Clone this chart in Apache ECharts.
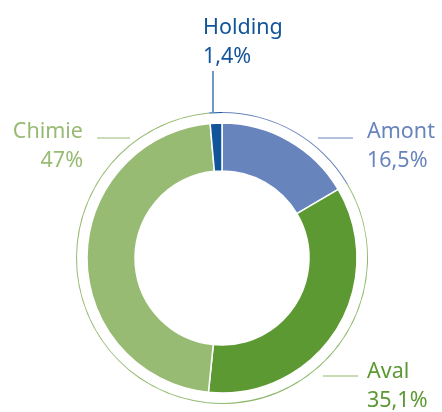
<!DOCTYPE html>
<html><head><meta charset="utf-8">
<script src="https://cdn.jsdelivr.net/npm/echarts@6/dist/echarts.min.js"></script>
<style>html,body{margin:0;padding:0;background:#fff}#c{width:442px;height:412px}</style>
</head><body><div id="c"></div>
<script>
const categories = ['Amont', 'Aval', 'Chimie', 'Holding'];
const values = [16.5, 35.1, 47, 1.4];
const valueLabels = ['16,5%', '35,1%', '47%', '1,4%'];
const colors = ['#6884bd', '#5c9933', '#98bb73', '#12549a'];
const lineColors = ['#6884bd', '#8fb96c', '#98bb73', '#12549a'];

// label anchor placement (layout only)
const labelPos = [
  { x: 367, y: 117.5, align: 'left', line: [[318, 138], [335, 138], [353, 138]] },
  { x: 367, y: 357, align: 'left', line: [[323, 376], [340, 376], [358, 376]] },
  { x: 83, y: 117.5, align: 'right', line: [[97, 138], [113, 138], [130, 138]] },
  { x: 203, y: 13.5, align: 'left', line: [[213, 71], [213, 90], [213, 112]] }
];

const chart = echarts.init(document.getElementById('c'));
chart.setOption({
  animation: false,
  series: [
    {
      type: 'pie',
      center: [222, 258],
      radius: [145, 146],
      startAngle: 90,
      clockwise: true,
      silent: true,
      label: { show: false },
      labelLine: { show: false },
      itemStyle: { borderWidth: 0 },
      data: categories.map((c, i) => ({ name: c, value: values[i], itemStyle: { color: lineColors[i] } }))
    },
    {
      type: 'pie',
      center: [222, 258],
      radius: [87, 135],
      startAngle: 90,
      clockwise: true,
      itemStyle: { borderColor: '#fff', borderWidth: 1.5 },
      label: {
        show: true,
        fontFamily: 'Noto Sans',
        fontSize: 21.5,
        lineHeight: 29,
        overflow: 'none',
        formatter: (p) => p.name + '\n' + valueLabels[p.dataIndex]
      },
      labelLine: { show: true, lineStyle: { width: 1.2 } },
      labelLayout: (params) => {
        const p = labelPos[params.dataIndex];
        return {
          x: p.x, y: p.y, align: p.align, verticalAlign: 'top',
          labelLinePoints: p.line
        };
      },
      data: categories.map((c, i) => ({
        name: c, value: values[i], itemStyle: { color: colors[i] },
        label: { color: colors[i], align: labelPos[i].align },
        labelLine: { lineStyle: { color: lineColors[i] } }
      }))
    }
  ]
});
</script></body></html>
